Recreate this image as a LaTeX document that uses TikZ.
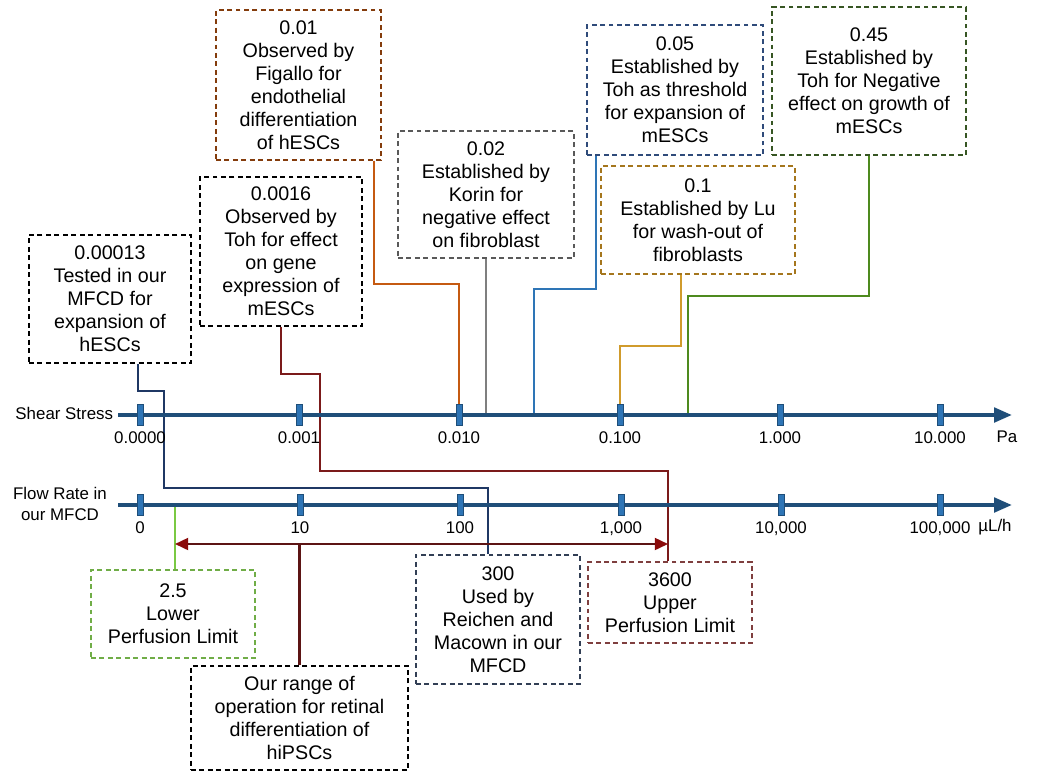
\documentclass[tikz,border=0pt]{standalone}
\usepackage{fontspec}
\setmainfont{Liberation Sans}
\usetikzlibrary{calc,arrows.meta}
\definecolor{axisblue}{HTML}{1F4E79}
\definecolor{tickblue}{HTML}{2E75B6}
\definecolor{navyline}{HTML}{1F3864}
\definecolor{redline}{HTML}{7B1A1A}
\definecolor{orangeline}{HTML}{C55A11}
\definecolor{grayline}{HTML}{7F7F7F}
\definecolor{blueline}{HTML}{2E75B6}
\definecolor{goldline}{HTML}{D09B2C}
\definecolor{greenline}{HTML}{4E8A1E}
\definecolor{limeline}{HTML}{7AC943}
\definecolor{rangeline}{HTML}{5C1414}
\definecolor{rangetip}{HTML}{8B0A0A}
\definecolor{brownbox}{HTML}{843C0C}
\definecolor{graybox}{HTML}{595959}
\definecolor{navybox}{HTML}{2F4B7A}
\definecolor{goldbox}{HTML}{A5761D}
\definecolor{greenbox}{HTML}{375623}
\definecolor{limebox}{HTML}{70AD47}
\definecolor{slatebox}{HTML}{323F55}
\definecolor{maroonbox}{HTML}{7F3F3F}

\begin{document}
\begin{tikzpicture}[x=0.025cm,y=-0.025cm,
  box/.style={draw,dash pattern=on 3.5pt off 2.5pt,line width=0.9pt,align=center,
    font=\fontsize{14}{16.4}\selectfont,inner sep=2pt},
  axis/.style={line width=2.8pt,draw=axisblue,-{Triangle[length=0.45cm,width=0.36cm]}},
  tick/.style={fill=tickblue,draw=axisblue,line width=0.3pt,minimum width=0.14cm,
    minimum height=0.52cm,inner sep=0pt,
    label={[font=\fontsize{12}{14}\selectfont,label distance=1pt]below:#1}},
  link/.style={line width=1.5pt},
  rangearrow/.style={line width=1.5pt,draw=rangeline,
    {Triangle[length=0.33cm,width=0.3cm,color=rangetip]}-{Triangle[length=0.33cm,width=0.3cm,color=rangetip]}}]
  \def\ys{415}
  \def\yf{505}

  \useasboundingbox (0,0) rectangle (1040,771);

  \node[box,draw=black,minimum width=4.05cm,minimum height=3.2cm] (b00013) at (110,299)
    {0.00013\\Tested in our\\MFCD for\\expansion of\\hESCs};
  \node[box,draw=black,minimum width=4.05cm,minimum height=3.725cm] (b0016) at (281,251.5)
    {0.0016\\Observed by\\Toh for effect\\on gene\\expression of\\mESCs};
  \node[box,draw=brownbox,minimum width=4.125cm,minimum height=3.75cm] (b001) at (298.5,85)
    {0.01\\Observed by\\Figallo for\\endothelial\\differentiation\\of hESCs};
  \node[box,draw=graybox,minimum width=4.4cm,minimum height=3.175cm] (b002) at (486,194.5)
    {0.02\\Established by\\Korin for\\negative effect\\on fibroblast};
  \node[box,draw=navybox,minimum width=4.4cm,minimum height=3.25cm] (b005) at (675,90)
    {0.05\\Established by\\Toh as threshold\\for expansion of\\mESCs};
  \node[box,draw=goldbox,minimum width=4.85cm,minimum height=2.7cm] (b01) at (698,220)
    {0.1\\Established by Lu\\for wash-out of\\fibroblasts};
  \node[box,draw=greenbox,minimum width=4.85cm,minimum height=3.7cm] (b045) at (869,81)
    {0.45\\Established by\\Toh for Negative\\effect on growth of\\mESCs};

  \node[box,draw=limebox,minimum width=4.1cm,minimum height=2.2cm] (b25) at (173,614)
    {2.5\\Lower\\Perfusion Limit};
  \node[box,draw=slatebox,minimum width=4.1cm,minimum height=3.225cm] (b300) at (498,619.5)
    {300\\Used by\\Reichen and\\Macown in our\\MFCD};
  \node[box,draw=maroonbox,minimum width=4.1cm,minimum height=2.025cm] (b3600) at (670,602.5)
    {3600\\Upper\\Perfusion Limit};
  \node[box,draw=black,minimum width=5.425cm,minimum height=2.6cm] (brange) at (299.5,718)
    {Our range of\\operation for retinal\\differentiation of\\hiPSCs};

  \coordinate (p001) at (459,\ys);
  \coordinate (p002) at (486,\ys);
  \coordinate (p005) at (534,\ys);
  \coordinate (p01)  at (620,\ys);
  \coordinate (p045) at (688,\ys);
  \coordinate (q25)  at (175,\yf);
  \coordinate (qlo)  at (175,544);
  \coordinate (qhi)  at (668,544);

  \draw[link,draw=navyline] ($(b00013.south)+(28,0)$) -- ++(0,27) -| (164,488)
    -| ($(b300.north)+(-10,0)$);
  \draw[link,draw=redline] (b0016.south) -- ++(0,47) -| (320,471)
    -| ($(b3600.north)+(-2,0)$);
  \draw[link,draw=orangeline] ($(b001.south)+(75.5,0)$) |- ($(p001)+(0,-131)$) -- (p001);
  \draw[link,draw=grayline] (b002.south) -- (p002);
  \draw[link,draw=blueline] ($(b005.south)+(-79,0)$) -- ++(0,133) -| (p005);
  \draw[link,draw=goldline] ($(b01.south)+(-17,0)$) -- ++(0,71) -| (p01);
  \draw[link,draw=greenline] (b045.south) -- ++(0,140) -| (p045);
  \draw[link,draw=limeline] (q25) -- (q25 |- b25.north);

  \draw[rangearrow] (qlo) -- (qhi);
  \draw[link,draw=rangeline] (brange.north) -- (brange.north |- qlo);

  \node[anchor=east,font=\fontsize{12}{14}\selectfont] (tshear) at (118,413) {Shear Stress};
  \node[align=center,font=\fontsize{12}{14.9}\selectfont] (tflow) at (60,504) {Flow Rate in\\our MFCD};
  \coordinate (s0) at (118,\ys);
  \coordinate (sE) at (1012,\ys);
  \coordinate (f0) at (118,\yf);
  \coordinate (fE) at (1012,\yf);
  \draw[axis] (s0) -- (sE);
  \draw[axis] (f0) -- (fE);

  \node[tick=0.0000] (s1) at (140,\ys) {};
  \node[tick=0.001]  (s2) at (299,\ys) {};
  \node[tick=0.010]  (s3) at (459,\ys) {};
  \node[tick=0.100]  (s4) at (620,\ys) {};
  \node[tick=1.000]  (s5) at (780,\ys) {};
  \node[tick=10.000] (s6) at (940,\ys) {};

  \node[tick=0]          (f1) at (140,\yf) {};
  \node[tick=10]         (f2) at (300,\yf) {};
  \node[tick=100]        (f3) at (460,\yf) {};
  \node[tick={{1,000}}]  (f4) at (621,\yf) {};
  \node[tick={{10,000}}] (f5) at (781,\yf) {};
  \node[tick={{100,000}}] (f6) at (940,\yf) {};

  \node[font=\fontsize{12}{14}\selectfont] (pa) at (1007,437) {Pa};
  \node[font=\fontsize{12}{14}\selectfont] (ul) at (995,527) {µL/h};
\end{tikzpicture}
\end{document}
